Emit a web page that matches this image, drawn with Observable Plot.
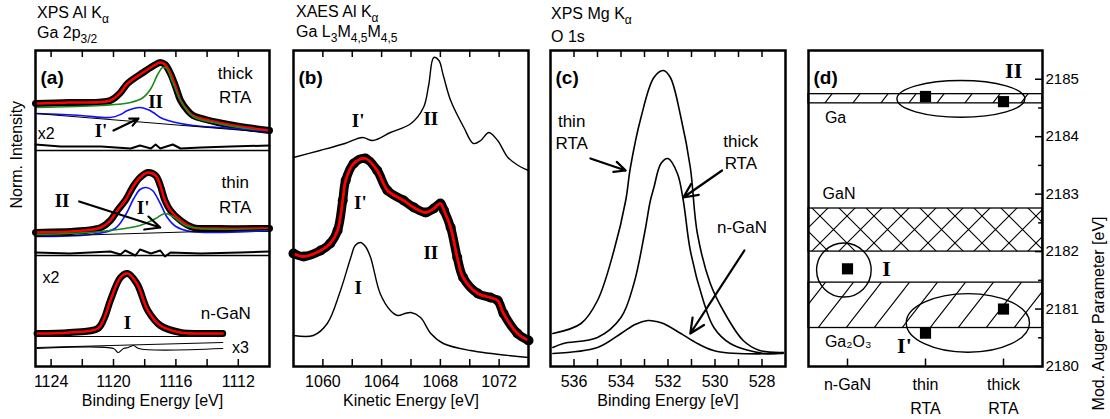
<!DOCTYPE html>
<html><head><meta charset="utf-8">
<script src="https://cdn.jsdelivr.net/npm/d3@7"></script>
<script src="https://cdn.jsdelivr.net/npm/@observablehq/plot@0.6"></script>
<style>
body{margin:0;background:#fff;}
#fig{position:relative;width:1110px;height:419px;overflow:hidden;font-family:"Liberation Sans",Arial,sans-serif;background:#fff;}
#fig svg{position:absolute;top:0;}
.ttl{position:absolute;font-size:16px;line-height:18px;white-space:nowrap;color:#000;}
.ttl sub{font-size:12px;vertical-align:-5px;line-height:0;}
</style></head><body>
<svg width="0" height="0" style="position:absolute"><defs>
<pattern id="hatchSlash" patternUnits="userSpaceOnUse" width="28" height="36"><path d="M0,36 L28,0 M-2,2 L2,-2 M26,38 L30,34" stroke="black" stroke-width="1.1" fill="none"/></pattern>
<pattern id="hatchCross" patternUnits="userSpaceOnUse" width="27" height="27"><path d="M0,0 L27,27 M27,0 L0,27" stroke="black" stroke-width="1.1" fill="none"/></pattern>
</defs></svg>
<div id="fig"></div>
<script>
// ---------------- DATA ----------------
// Panel (a): XPS Al Ka, Ga 2p3/2 — [binding energy eV, intensity (arb. u.)]
const aThickData = [[1125.0,263],[1122.8,264],[1120.2,266],[1119.55,274],[1119.1,283],[1118.1,294],[1117.3,302],[1117.0,304],[1116.7,302],[1116.35,293],[1116.0,279],[1115.7,266],[1115.25,256],[1114.9,251],[1114.1,247],[1113.3,244],[1111.9,240],[1110.0,236]];
const aThickGreen = [[1125,259],[1120.8,261],[1118.9,264],[1118.1,269],[1117.6,278],[1117.2,291],[1116.85,299],[1116.6,298],[1116.2,284],[1115.7,266],[1114.9,250],[1113.3,243],[1110,234]];
const aThickBlue = [[1125,253],[1122.1,251],[1120.2,249],[1119.55,252],[1119.1,256],[1118.3,259],[1117.8,257],[1117.45,254],[1117.0,249],[1116.5,246],[1115.7,243],[1114.9,241],[1112.5,238],[1110,234]];
const aThickBg = [[1125,253],[1110,234]];
const aThickResidE = [1125,1123.4,1120.8,1118.9,1118.3,1117.6,1117.3,1117.0,1116.2,1115.7,1114.4,1112.5,1110];
const aThickResidI = [222,220,220,218,221,218,222,218,222,218,219,220,221];
const aThinData = [[1125,134],[1121.9,136],[1120.8,139],[1120.2,146],[1119.75,156],[1119.25,166],[1118.7,181],[1118.3,189],[1117.8,194],[1117.3,191],[1117.0,181],[1116.7,166],[1116.35,156],[1115.7,146],[1114.9,139],[1113.3,138],[1110,138]];
const aThinBlue = [[1125,130],[1121.5,132],[1119.9,138],[1119.25,151],[1118.7,168],[1118.3,177],[1117.9,179],[1117.5,176],[1117.0,163],[1116.55,149],[1116.0,140],[1115.05,135],[1110,136]];
const aThinGreen = [[1125,132],[1120.8,135],[1118.3,141],[1117.3,148],[1116.7,153],[1116.2,150],[1115.4,141],[1114.4,138],[1110,137]];
const aThinBg = [[1125,130],[1110,137]];
const aThinResidE = [1125,1122.8,1120.2,1119.55,1119.25,1118.6,1118.3,1117.6,1117.0,1116.7,1116.35,1114.4,1111.9,1110];
const aThinResidI = [114,113,115,112,116,111,117,113,116,110,114,113,114,115];
const aNGaNData = [[1124.9,33],[1122.8,34],[1121.0,38],[1120.6,48],[1120.2,66],[1119.55,89],[1119.1,93],[1118.5,83],[1117.8,56],[1117.0,41],[1115.7,34],[1114.4,33],[1113.0,33]];
const aNGaNBg = [[1124.9,30],[1113,30]];
const aNGaNResid1 = [[1124.9,19],[1113,24]];
const aNGaNResid2 = [[1124.9,18],[1120,18],[1119.7,14],[1119.35,18],[1119.05,19],[1118.7,21],[1118.4,18],[1113,18]];
const aSectionBreaks = [216, 111];
const aTicks = [1124,1122,1120,1118,1116,1114,1112];
const aTickLabels = [1124,1120,1116,1112];
const aSansText = ["thick","RTA","thin","RTA","n-GaN"];
const aSansE = [1112.2,1112.2,1112.2,1112.2,1112.8];
const aSansI = [293,269,184,159,53];
const aFactorText = ["x2","x2","x3"];
const aFactorE = [1124.85,1124.55,1112.4];
const aFactorI = [233,89,19];
const aPeakText = ["II","I'","II","I'","I"];
const aPeakE = [1117.3,1120.8,1123.3,1118.1,1119.1];
const aPeakI = [265,236,166,159,44];
const aArrowFrom = [[1120.0,236],[1122.2,165]];
const aArrowTo = [[1118.4,248],[1117.0,139]];

// Panel (b): XAES Al Ka, Ga L3M45M45 — [kinetic energy eV, intensity]
const bTopTrace = [[1058.0,209],[1059.8,216],[1061.5,223],[1062.7,229],[1063.4,226],[1064.6,234],[1066.0,243],[1066.85,259],[1067.2,281],[1067.55,309],[1067.9,306],[1068.2,291],[1068.7,266],[1069.6,239],[1070.25,223],[1070.75,226],[1071.3,234],[1071.9,226],[1072.6,209],[1073.3,201],[1074.0,196]];
const bMidData = [[1058.0,113],[1058.7,110],[1059.85,116],[1060.5,123],[1061.0,136],[1061.35,166],[1061.55,186],[1062.1,203],[1062.9,208],[1063.7,196],[1064.4,176],[1065.5,166],[1066.2,159],[1067.0,154],[1067.55,158],[1068.0,163],[1068.25,156],[1068.7,139],[1069.15,109],[1069.55,89],[1070.55,73],[1071.4,69],[1071.9,66],[1072.3,53],[1073.25,33],[1074.0,26]];
const bBottom = [[1058.0,31],[1059.35,31],[1060.3,43],[1061.2,76],[1061.9,109],[1062.2,121],[1062.55,124],[1062.9,120],[1063.25,109],[1063.9,73],[1064.6,56],[1065.1,51],[1065.6,53],[1066.0,54],[1066.65,49],[1067.35,33],[1068.2,23],[1070.05,16],[1074.0,9]];
const bTicks = [1060,1062,1064,1066,1068,1070,1072];
const bTickLabels = [1060,1064,1068,1072];
const bPeakText = ["I'","II","I'","II","I"];
const bPeakE = [1062.4,1067.35,1062.55,1067.35,1062.4];
const bPeakI = [246,248,164,114,79];

// Panel (c): XPS Mg Ka, O 1s — [binding energy eV, intensity]
const cThin = [[536.9,33],[535.7,43],[535.0,66],[534.3,116],[533.8,166],[533.6,199],[533.15,249],[532.6,289],[532.2,296],[531.9,289],[531.45,249],[531.05,199],[530.75,133],[530.2,83],[529.65,56],[528.8,26],[528.1,16],[527.1,14]];
const cThick = [[536.9,19],[536.45,23],[535.0,29],[534.0,49],[533.45,83],[533.0,133],[532.75,166],[532.6,179],[532.3,203],[532.0,208],[531.6,193],[531.35,166],[531.05,116],[530.5,66],[530.05,39],[529.35,23],[527.9,13],[527.1,14]];
const cNGaN = [[536.9,13],[535.0,19],[534.0,33],[533.4,42],[532.85,46],[532.5,45],[532.2,43],[531.45,33],[530.75,23],[529.9,15],[527.1,13]];
const cTicks = [536,535,534,533,532,531,530,529,528];
const cTickLabels = [536,534,532,530,528];
const cSansText = ["thin","RTA","thick","RTA","n-GaN"];
const cSansE = [536.1,536.1,528.9,528.9,528.85];
const cSansI = [245,223,225,203,139];
const cArrowFrom = [[535.3,208],[529.7,196],[528.75,116]];
const cArrowTo = [[533.8,196],[531.35,169],[531.05,33]];

// Panel (d): modified Auger parameter
const samples = ["n-GaN","thin\nRTA","thick\nRTA"];
const augerI = [2181.7, 2180.58, 2181.0];     // component I / I'
const augerII = [null, 2184.7, 2184.61];      // component II
const bandNames = ["Ga","GaN","Ga₂O₃"];
const bandLo = [2184.58, 2182.0, 2180.67];
const bandHi = [2184.74, 2182.75, 2181.46];
const bandPattern = ["hatchSlash","hatchCross","hatchSlash"];
const bandLabelX = [-0.29,-0.32,-0.29];
const bandLabelY = [2184.32,2183.0,2180.42];
const ellCx = [-0.04, 1.46, 1.55];
const ellCy = [2181.67, 2184.65, 2180.75];
const ellRx = [0.35, 0.82, 0.79];
const ellRy = [0.47, 0.32, 0.51];
const dGroupText = ["II","I","I'"];
const dGroupX = [2.13, 0.5, 0.73];
const dGroupY = [2185.14, 2181.7, 2180.35];
const dTickLabels = [2180,2181,2182,2183,2184,2185];
const dMinorTicks = [2180.5,2181.5,2182.5,2183.5,2184.5];

const titles = [["XPS Al K<sub>α</sub>","Ga 2p<sub>3/2</sub>"],["XAES Al K<sub>α</sub>","Ga L<sub>3</sub>M<sub>4,5</sub>M<sub>4,5</sub>"],["XPS Mg K<sub>α</sub>","O 1s"]];

// ---------------- DRAWING ----------------
const FONT = '"Liberation Sans", Arial, Helvetica, sans-serif';
const SERIF = '"Liberation Serif", "Times New Roman", serif';
const fig = document.getElementById("fig");
const P = arr => arr.map(([x, y]) => ({x, y}));
const Z = (xs, ys, ts) => xs.map((x, i) => ({x, y: ys[i], t: ts ? ts[i] : null}));
const line = (data, o) => Plot.line(P(data), {x: "x", y: "y", curve: "catmull-rom", strokeLinejoin: "round", strokeLinecap: "round", ...o});
const arrows = (from, to) => Plot.arrow(from.map((f, i) => ({x1: f[0], y1: f[1], x2: to[i][0], y2: to[i][1]})), {x1: "x1", y1: "y1", x2: "x2", y2: "y2", strokeWidth: 2.2, headLength: 11, headAngle: 50});
const serifText = (rows, size) => Plot.text(rows, {x: "x", y: "y", text: "t", fontFamily: SERIF, fontWeight: "bold", fontSize: size});
const sansText = (rows, o) => Plot.text(rows, {x: "x", y: "y", text: "t", fontFamily: FONT, fontSize: 17, ...o});
const common = (w, ml, mr) => ({width: w, height: 419, marginTop: 50, marginBottom: 53, marginLeft: ml, marginRight: mr,
  style: {fontFamily: FONT, fontSize: "16px", color: "black", background: "transparent", overflow: "visible"}});
const mount = (el, left) => { el.style.left = left + "px"; fig.appendChild(el); };
const xLabel = s => Plot.text([s], {text: d => d, frameAnchor: "bottom", dy: 39, fontSize: 16});
const xAxis = ticks => Plot.axisX({ticks, tickSize: 0, tickPadding: 9, label: null, tickFormat: d => `${d}`, fontSize: 16});

// Panel (a)
mount(Plot.plot({
  ...common(280, 35, 11),
  x: {domain: [1125, 1110], axis: null},
  y: {domain: [0, 316], axis: null},
  marks: [
    Plot.ruleY(aSectionBreaks, {stroke: "black", strokeWidth: 1.5}),
    Plot.ruleX(aTicks, {y1: 0, y2: 7, strokeWidth: 1.5}),
    Plot.ruleX(aTicks, {y1: 309, y2: 316, strokeWidth: 1.5}),
    line(aThickData, {stroke: "black", strokeWidth: 7}),
    line(aThickData, {stroke: "#ff0000", strokeWidth: 2.5}),
    line(aThickGreen, {stroke: "#1a8a1a", strokeWidth: 1.6}),
    line(aThickBlue, {stroke: "#1010ff", strokeWidth: 1.6}),
    line(aThickBg, {stroke: "black", strokeWidth: 1, curve: "linear"}),
    Plot.line(Z(aThickResidE, aThickResidI), {x: "x", y: "y", strokeWidth: 2}),
    line(aThinData, {stroke: "black", strokeWidth: 7}),
    line(aThinData, {stroke: "#ff0000", strokeWidth: 2.5}),
    line(aThinBlue, {stroke: "#1010ff", strokeWidth: 1.6}),
    line(aThinGreen, {stroke: "#1a8a1a", strokeWidth: 1.6}),
    line(aThinBg, {stroke: "black", strokeWidth: 1, curve: "linear"}),
    Plot.line(Z(aThinResidE, aThinResidI), {x: "x", y: "y", strokeWidth: 2}),
    line(aNGaNBg, {stroke: "black", strokeWidth: 1, curve: "linear"}),
    line(aNGaNData, {stroke: "black", strokeWidth: 7}),
    line(aNGaNData, {stroke: "#ff0000", strokeWidth: 2.5}),
    line(aNGaNResid1, {stroke: "black", strokeWidth: 1.2, curve: "linear"}),
    line(aNGaNResid2, {stroke: "black", strokeWidth: 1.2}),
    arrows(aArrowFrom, aArrowTo),
    sansText(Z(aSansE, aSansI, aSansText)),
    sansText(Z(aFactorE, aFactorI, aFactorText), {textAnchor: "start", fontSize: 16}),
    serifText(Z(aPeakE, aPeakI, aPeakText), 19),
    Plot.text(["(a)"], {text: d => d, frameAnchor: "top-left", dx: 5, dy: 20, fontWeight: "bold", fontSize: 19}),
    Plot.frame({stroke: "black", strokeWidth: 2.5}),
    xAxis(aTickLabels),
    xLabel("Binding Energy [eV]"),
    Plot.text(["Norm. Intensity"], {text: d => d, frameAnchor: "left", rotate: -90, dx: -19, fontSize: 16})
  ]
}), 0);

// Panel (b)
mount(Plot.plot({
  ...common(255, 13, 7),
  x: {domain: [1058, 1074], axis: null},
  y: {domain: [0, 316], axis: null},
  marks: [
    Plot.ruleX(bTicks, {y1: 0, y2: 7, strokeWidth: 1.5}),
    Plot.ruleX(bTicks, {y1: 309, y2: 316, strokeWidth: 1.5}),
    line(bTopTrace, {stroke: "black", strokeWidth: 1.4}),
    line(bMidData, {stroke: "black", strokeWidth: 9}),
    Plot.dot(P(bMidData), {x: "x", y: "y", r: 5, fill: "black"}),
    line(bMidData, {stroke: "#ff0000", strokeWidth: 2.8}),
    line(bBottom, {stroke: "black", strokeWidth: 1.4}),
    serifText(Z(bPeakE, bPeakI, bPeakText), 19),
    Plot.text(["(b)"], {text: d => d, frameAnchor: "top-left", dx: 5, dy: 20, fontWeight: "bold", fontSize: 19}),
    Plot.frame({stroke: "black", strokeWidth: 2.5}),
    xAxis(bTickLabels),
    xLabel("Kinetic Energy [eV]")
  ]
}), 280);

// Panel (c)
mount(Plot.plot({
  ...common(258, 15, 8),
  x: {domain: [537, 527], axis: null},
  y: {domain: [0, 316], axis: null},
  marks: [
    Plot.ruleX(cTicks, {y1: 0, y2: 7, strokeWidth: 1.5}),
    Plot.ruleX(cTicks, {y1: 309, y2: 316, strokeWidth: 1.5}),
    line(cThin, {stroke: "black", strokeWidth: 1.6}),
    line(cThick, {stroke: "black", strokeWidth: 1.6}),
    line(cNGaN, {stroke: "black", strokeWidth: 1.6}),
    arrows(cArrowFrom, cArrowTo),
    sansText(Z(cSansE, cSansI, cSansText)),
    Plot.text(["(c)"], {text: d => d, frameAnchor: "top-left", dx: 5, dy: 20, fontWeight: "bold", fontSize: 19}),
    Plot.frame({stroke: "black", strokeWidth: 2.5}),
    xAxis(cTickLabels),
    xLabel("Binding Energy [eV]")
  ]
}), 535);

// Panel (d)
const bands = bandNames.map((n, i) => ({name: n, lo: bandLo[i], hi: bandHi[i], pat: bandPattern[i]}));
const ellipses = ellCx.map((cx, i) => ({cx, cy: ellCy[i], rx: ellRx[i], ry: ellRy[i]}));
const ellipseMark = rows => (index, scales) => {
  const g = d3.create("svg:g").attr("fill", "none").attr("stroke", "black").attr("stroke-width", 1.4);
  rows.forEach(e => {
    const cx = scales.x(e.cx), cy = scales.y(e.cy);
    g.append("ellipse").attr("cx", cx).attr("cy", cy)
      .attr("rx", Math.abs(scales.x(e.cx + e.rx) - cx))
      .attr("ry", Math.abs(scales.y(e.cy + e.ry) - cy));
  });
  return g.node();
};
const pts = samples.flatMap((s, i) => [augerI[i], augerII[i]].filter(v => v != null).map(v => ({i, v})));
mount(Plot.plot({
  ...common(317, 15, 68),
  x: {domain: [-0.5, 2.5], axis: null},
  y: {domain: [2180, 2185.5], axis: null},
  marks: [
    ...bands.map(b => Plot.rect([b], {y1: "lo", y2: "hi", fill: `url(#${b.pat})`, stroke: "black", strokeWidth: 1.3})),
    Plot.ruleX([0, 1, 2], {y1: 2180, y2: 2180.13, strokeWidth: 1.5}),
    Plot.ruleY(dTickLabels, {x1: 2.41, x2: 2.5, strokeWidth: 1.5}),
    Plot.ruleY(dMinorTicks, {x1: 2.45, x2: 2.5, strokeWidth: 1.5}),
    ellipseMark(ellipses),
    Plot.dot(pts, {x: "i", y: "v", symbol: "square", r: 6.3, fill: "black", stroke: null}),
    Plot.text(bands.map((b, i) => ({x: bandLabelX[i], y: bandLabelY[i], t: b.name})), {x: "x", y: "y", text: "t", textAnchor: "start", fontSize: 16}),
    serifText(Z(dGroupX, dGroupY, dGroupText), 22),
    Plot.text(["(d)"], {text: d => d, frameAnchor: "top-left", dx: 5, dy: 20, fontWeight: "bold", fontSize: 19}),
    Plot.frame({stroke: "black", strokeWidth: 2.5}),
    Plot.text(samples.map((s, i) => ({i, s})), {x: "i", text: "s", frameAnchor: "bottom", lineAnchor: "top", dy: 6, lineHeight: 1.5, fontSize: 16}),
    Plot.axisY({anchor: "right", ticks: dTickLabels, tickSize: 0, tickPadding: 3, label: null, tickFormat: d => `${d}`, fontSize: 15}),
    Plot.text(["Mod. Auger Parameter [eV]"], {text: d => d, frameAnchor: "right", rotate: -90, dx: 56, dy: 8, fontSize: 16})
  ]
}), 793);

// Titles (HTML above the plots)
const titleLeft = [37, 296, 551];
const titleTop = [[4, 24], [3, 23], [5, 28]];
titles.forEach((pair, k) => pair.forEach((html, j) => {
  const d = document.createElement("div");
  d.className = "ttl"; d.innerHTML = html;
  d.style.left = titleLeft[k] + "px"; d.style.top = titleTop[k][j] + "px";
  fig.appendChild(d);
}));
</script></body></html>
